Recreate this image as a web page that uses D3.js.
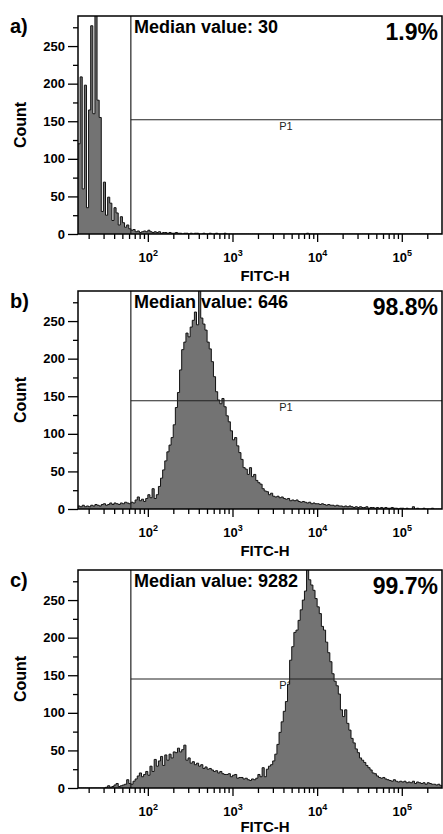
<!DOCTYPE html>
<html>
<head>
<meta charset="utf-8">
<script src="https://cdn.jsdelivr.net/npm/d3@7"></script>
<style>
  body { margin: 0; background: #fff; }
  text { font-family: Arial, "Liberation Sans", sans-serif; }
</style>
</head>
<body>
<div id="chart"></div>
<script>
const width = 443, height = 834;

// histogram bins, log10 of FITC-H : first edge and bin width
const binStart = 1.175, binStep = 0.025, binCount = 172;

const countsA = [
  120,209,60,198,35,165,277,160,300,178,
  155,30,69,25,49,41,18,35,28,12,
  23,15,9,12,7,5,6,3,4,2,
  3,4,3,5,3,2,3,2,3,1,
  2,2,1,2,1,1,2,1,1,0,
  1,1,0,1,0,1,1,0,0,1,
  0,0,1,0,0,1,0,0,0,1,
  0,0,0,0,0,0,0,0,0,0,
  0,0,0,0,0,0,0,0,0,0,
  0,0,0,0,0,0,0,0,0,0,
  0,0,0,0,0,0,0,0,1,0,
  0,0,0,0,0,0,0,0,0,0,
  0,0,0,0,0,0,0,0,0,0,
  0,0,0,0,0,0,0,0,0,0,
  0,0,0,0,0,0,0,0,0,0,
  0,0,0,0,0,0,0,0,0,0,
  0,0,0,0,0,0,0,0,0,0,
  0,0
];

const countsB = [
  4,3,5,3,4,3,5,4,6,5,
  4,6,7,5,6,8,6,8,7,6,
  8,7,9,8,7,9,8,12,16,11,
  13,10,14,19,15,27,14,19,30,41,
  52,64,76,85,95,112,135,155,185,212,
  222,234,229,242,251,262,245,300,254,246,
  238,222,213,196,176,156,145,140,147,136,
  124,116,104,92,95,84,75,66,55,53,
  46,55,43,46,38,35,33,27,24,23,
  19,21,17,16,17,15,16,14,13,14,
  11,12,11,12,10,9,10,9,8,9,
  7,8,7,7,6,7,6,5,6,5,
  5,4,5,4,4,3,4,3,4,3,
  2,3,2,3,2,2,3,1,2,2,
  1,2,1,2,1,2,1,1,2,1,
  1,0,1,1,0,1,0,0,3,0,
  1,0,0,1,0,0,0,1,0,0,
  0,0
];

const countsC = [
  0,0,0,0,0,0,0,0,0,0,
  0,0,0,1,3,1,2,4,6,2,
  3,4,5,11,6,5,9,12,16,20,
  15,18,22,17,29,22,38,29,36,42,
  30,44,37,45,40,48,47,53,48,51,
  57,37,40,33,35,31,33,29,31,26,
  28,25,26,24,22,23,20,22,19,18,
  18,19,15,17,18,13,14,14,12,13,
  11,10,12,11,13,18,15,27,15,25,
  29,31,36,45,58,74,88,102,115,138,
  170,188,207,210,223,237,250,262,300,277,
  270,263,252,241,232,215,210,194,180,168,
  152,142,136,125,104,95,104,86,77,66,
  60,52,47,40,37,34,30,27,24,20,
  19,16,14,13,14,12,11,10,9,11,
  9,8,9,8,9,7,8,7,9,6,
  8,7,6,7,5,7,6,5,5,4,
  5,3
];

const panelLabels = ["a)", "b)", "c)"];
const medians = [30, 646, 9282];
const percents = ["1.9%", "98.8%", "99.7%"];
const gateX = 63;
const gateY = [152, 144, 145];

const yTicks = [0, 50, 100, 150, 200, 250];
const yMinor = [25, 75, 125, 175, 225, 275];
const xTicks = [1e2, 1e3, 1e4, 1e5];
const xTickExp = ["2", "3", "4", "5"];

const left = 78, right = 442, plotH = 218;
const panelTops = [16, 291, 570];

const svg = d3.select("#chart").append("svg")
    .attr("width", width)
    .attr("height", height);

const x = d3.scaleLog()
    .domain([Math.pow(10, binStart), Math.pow(10, binStart + binStep * binCount)])
    .range([left, right]);

// minor ticks 2..9 of every decade in the domain
var xMinor = [];
for (var e = 1; e <= 5; e++) {
  for (var m = 2; m <= 9; m++) {
    var v = m * Math.pow(10, e);
    if (v > x.domain()[0] && v < x.domain()[1]) xMinor.push(v);
  }
}

const panels = [countsA, countsB, countsC];

panels.forEach(function(counts, k) {
  const top = panelTops[k];
  const y = d3.scaleLinear().domain([0, 290]).range([top + plotH, top]);
  const g = svg.append("g");

  g.append("clipPath").attr("id", "clip" + k)
    .append("rect")
      .attr("x", left).attr("y", top)
      .attr("width", right - left).attr("height", plotH);

  // texts under the histogram
  g.append("text")
      .attr("x", 10).attr("y", top + 17)
      .style("font-size", "20px").style("font-weight", "bold")
      .text(panelLabels[k]);

  g.append("text")
      .attr("x", 134).attr("y", top + 17)
      .style("font-size", "18px").style("font-weight", "bold")
      .text("Median value: " + medians[k]);

  g.append("text")
      .attr("x", 438).attr("y", top + 24)
      .attr("text-anchor", "end")
      .style("font-size", "23px").style("font-weight", "bold")
      .text(percents[k]);

  g.append("text")
      .attr("x", 286).attr("y", y(gateY[k]) + 10)
      .attr("text-anchor", "middle")
      .style("font-size", "11px")
      .attr("fill", "#222")
      .text("P1");

  // histogram
  const pts = counts.map(function(c, i) {
    return {v: Math.pow(10, binStart + binStep * i), c: c};
  });
  pts.push({v: Math.pow(10, binStart + binStep * binCount), c: counts[counts.length - 1]});

  const area = d3.area()
      .x(function(d) { return x(d.v); })
      .y0(y(0))
      .y1(function(d) { return y(d.c); })
      .curve(d3.curveStepAfter);

  const outline = d3.line()
      .x(function(d) { return x(d.v); })
      .y(function(d) { return y(d.c); })
      .curve(d3.curveStepAfter);

  const hist = g.append("g").attr("clip-path", "url(#clip" + k + ")");
  hist.append("path")
      .attr("d", area(pts))
      .attr("fill", "#737373");
  hist.append("path")
      .attr("d", outline(pts))
      .attr("fill", "none")
      .attr("stroke", "#111")
      .attr("stroke-width", 1);

  // gate P1
  g.append("line")
      .attr("x1", x(gateX)).attr("x2", x(gateX))
      .attr("y1", top).attr("y2", top + plotH)
      .attr("stroke", "#222").attr("stroke-width", 1.2);
  g.append("line")
      .attr("x1", x(gateX)).attr("x2", right)
      .attr("y1", y(gateY[k])).attr("y2", y(gateY[k]))
      .attr("stroke", "#222").attr("stroke-width", 1.2);

  // frame
  g.append("rect")
      .attr("x", left).attr("y", top)
      .attr("width", right - left).attr("height", plotH)
      .attr("fill", "none")
      .attr("stroke", "#000")
      .attr("stroke-width", 1.5);

  // y axis
  g.append("g")
      .attr("transform", "translate(" + left + ",0)")
      .call(d3.axisLeft(y).tickValues(yTicks).tickSize(10).tickPadding(3))
      .call(function(a) { a.select(".domain").remove(); })
      .call(function(a) {
        a.selectAll("line").attr("stroke-width", 1.3);
        a.selectAll("text")
          .attr("fill", "#000")
          .style("font-size", "13px").style("font-weight", "bold")
          .style("font-family", "Arial, 'Liberation Sans', sans-serif");
      });
  g.append("g")
      .attr("transform", "translate(" + left + ",0)")
      .call(d3.axisLeft(y).tickValues(yMinor).tickSize(5).tickFormat(""))
      .call(function(a) { a.select(".domain").remove(); })
      .call(function(a) { a.selectAll("line").attr("stroke-width", 1.3); });

  // x axis
  g.append("g")
      .attr("transform", "translate(0," + (top + plotH) + ")")
      .call(d3.axisBottom(x).tickValues(xTicks).tickSize(8).tickFormat(""))
      .call(function(a) { a.select(".domain").remove(); })
      .call(function(a) {
        a.selectAll("line").attr("stroke-width", 1.3);
        a.selectAll(".tick text")
          .attr("y", 28).attr("dy", null)
          .attr("fill", "#000")
          .style("font-size", "13px").style("font-weight", "bold")
          .style("font-family", "Arial, 'Liberation Sans', sans-serif")
          .each(function(d, i) {
            const t = d3.select(this);
            t.append("tspan").text("10");
            t.append("tspan").attr("dy", -6).style("font-size", "9px").text(xTickExp[i]);
          });
      });
  g.append("g")
      .attr("transform", "translate(0," + (top + plotH) + ")")
      .call(d3.axisBottom(x).tickValues(xMinor).tickSize(5).tickFormat(""))
      .call(function(a) { a.select(".domain").remove(); })
      .call(function(a) { a.selectAll("line").attr("stroke-width", 1.3); });

  // axis titles
  g.append("text")
      .attr("transform", "translate(26," + (top + plotH / 2) + ") rotate(-90)")
      .attr("text-anchor", "middle")
      .style("font-size", "16px").style("font-weight", "bold")
      .text("Count");

  g.append("text")
      .attr("x", 265).attr("y", Math.min(top + plotH + 47, height - 2))
      .attr("text-anchor", "middle")
      .style("font-size", "15px").style("font-weight", "bold")
      .text("FITC-H");
});
</script>
</body>
</html>
